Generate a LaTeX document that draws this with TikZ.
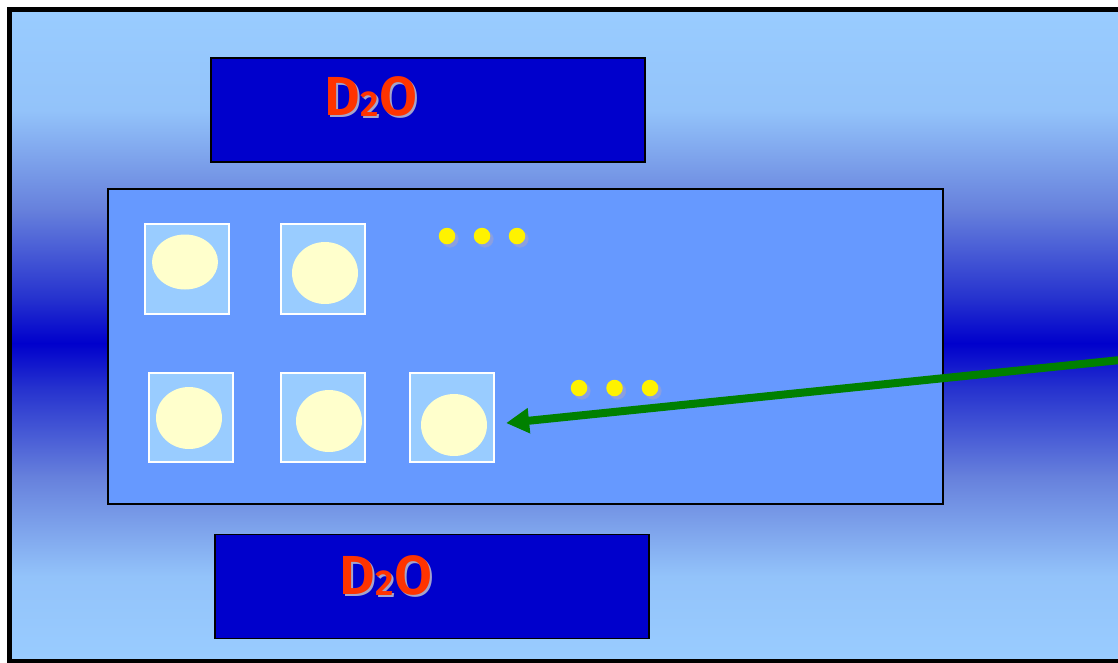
\documentclass[tikz,border=0pt]{standalone}
\usepackage{fontspec}
\setmainfont{Fira Sans}[BoldFont={Fira Sans SemiBold}]
\usepackage{xcolor}
\usetikzlibrary{arrows.meta,shapes.geometric,shadows}

\definecolor{sky}{HTML}{99CCFF}
\definecolor{skyA}{HTML}{93C3FA}
\definecolor{skyB}{HTML}{6680DC}
\definecolor{skyC}{HTML}{2430CE}
\definecolor{royal}{HTML}{0000CC}
\definecolor{slab}{HTML}{6699FF}
\definecolor{cream}{HTML}{FFFFCC}
\definecolor{flame}{HTML}{FF3300}
\definecolor{haze}{HTML}{A4A4CC}
\definecolor{leaf}{HTML}{008000}

\newcommand{\heavywater}{D\raisebox{-1pt}{\fontsize{36}{36}\selectfont 2}O}
\newcommand{\shadedwater}{\rlap{\hspace{2pt}\raisebox{-2.5pt}{\color{haze}\heavywater}}\heavywater}

\begin{document}
\begin{tikzpicture}[x=1pt,y=-1pt]
\tikzset{water/.style={draw=black,line width=1.2pt,fill=royal,minimum width=434pt,minimum height=104pt,inner sep=0pt}}
\tikzset{label/.style={anchor=base,inner sep=0pt,font=\fontsize{55}{55}\selectfont\bfseries,text=flame}}
\tikzset{well/.style={draw=white,line width=2pt,fill=sky,minimum width=84pt,minimum height=89pt,inner sep=0pt}}
\tikzset{drop/.style={ellipse,fill=cream,minimum width=66pt,minimum height=62pt,inner sep=0pt}}
\tikzset{dot/.style={circle,fill=yellow,minimum size=16.5pt,inner sep=0pt,circular drop shadow={shadow xshift=2.5pt,shadow yshift=-2.5pt,fill=haze,opacity=.6}}}
\tikzset{pointer/.style={draw=leaf,line width=8pt,-{Triangle[length=23pt,width=24pt]},shorten >=19pt}}

\useasboundingbox (0,0) rectangle (1118,662);
\clip (0,0) rectangle (1118,662);

\foreach \ya/\yb/\ca/\cb in {12/110.5/sky/skyA,110/210.5/skyA/skyB,210/300.5/skyB/skyC,300/343.5/skyC/royal,343/386.5/royal/skyC,386/476.5/skyC/skyB,476/576.5/skyB/skyA,576/660/skyA/sky}
  \shade[top color=\ca,bottom color=\cb] (12,\ya) rectangle (1140,\yb);
\draw[line width=5pt] (9.5,9.5) rectangle (1140,661.5);

\node[water] (top) at (428,110) {};
\node[water] (bottom) at (432,586.5) {};
\node[label] (toplabel) at (371,115) {\shadedwater};
\node[label] (bottomlabel) at (386,594) {\shadedwater};

\node[draw=black,line width=1.2pt,fill=slab,minimum width=835pt,minimum height=315pt,inner sep=0pt] (slab) at (525.5,346.5) {};

\node[well,minimum height=90pt] (w1) at (187,269) {};
\node[well,minimum height=90pt] (w2) at (323,269) {};
\node[well] (w3) at (190.5,417.5) {};
\node[well] (w4) at (323,417.5) {};
\node[well] (w5) at (451.5,417.5) {};

\node[drop,minimum height=55pt] (e1) at (185,262) {};
\node[drop] (e2) at (325,273) {};
\node[drop] (e3) at (189,418) {};
\node[drop] (e4) at (329,421) {};
\node[drop] (e5) at (454,425) {};

\foreach \x [count=\i] in {447,482,517}
  \node[dot] (u\i) at (\x,236) {};
\foreach \x [count=\i] in {579,614.5,650}
  \node[dot] (l\i) at (\x,388) {};

\coordinate (feed) at (1135,358.5);
\draw[pointer] (feed) -- (e5.east);

\end{tikzpicture}
\end{document}
